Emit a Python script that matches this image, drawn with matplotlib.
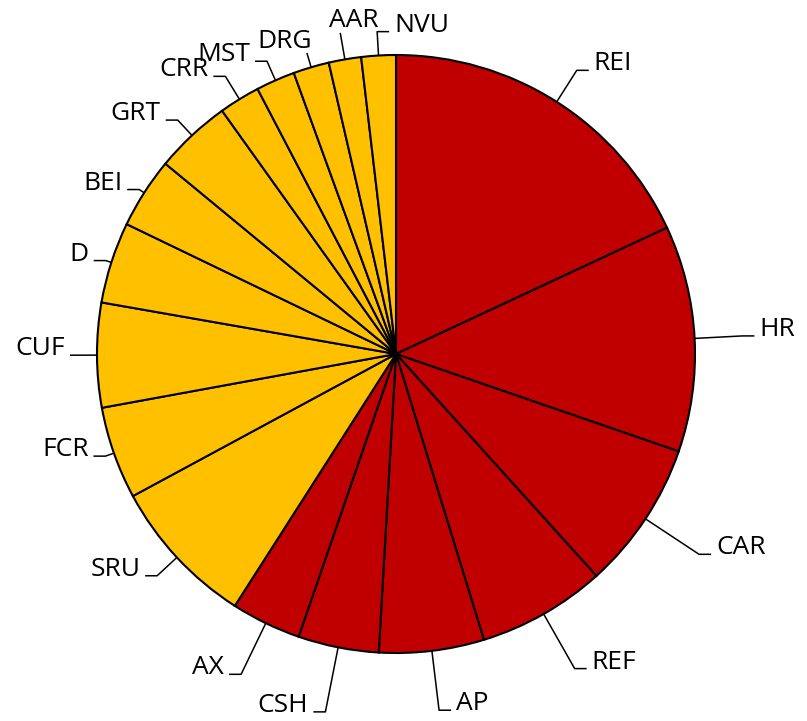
import numpy as np
import matplotlib.pyplot as plt

labels = ['REI', 'HR', 'CAR', 'REF', 'AP', 'CSH', 'AX', 'SRU', 'FCR', 'CUF',
          'D', 'BEI', 'GRT', 'CRR', 'MST', 'DRG', 'AAR', 'NVU']
values = [18.06, 12.22, 8.03, 6.94, 5.67, 4.36, 3.78, 8.06, 5.0, 5.64,
          4.39, 3.83, 4.14, 2.22, 2.11, 1.94, 1.75, 1.86]
groups = ['A'] * 7 + ['B'] * 11

colors = {'A': '#C00000', 'B': '#FFC000'}

# label layout: elbow radius and where the text goes
elbow_r = [1.125, 1.16, 1.215, 1.21, 1.2, 1.22, 1.19, 1.09, 1.03, 1.05,
           1.02, 1.02, 1.07, 1.09, 1.07, 1.05, 1.09, 1.08]
modes = ['r', 'r', 'r', 'r', 'r', 'l', 'l', 'l', 'l', 'l',
         'l', 'l', 'l', 'l', 'l', 'ul', 'ur', 'r']

W, H = 807, 721
cx, cy, R = 396, 354, 299

fig = plt.figure(figsize=(W / 100, H / 100), dpi=100)
ax = fig.add_axes([0, 0, 1, 1])

wedges, _ = ax.pie(values, colors=[colors[g] for g in groups], startangle=90,
                   counterclock=False, radius=1.0,
                   wedgeprops=dict(edgecolor='black', linewidth=1.5))
ax.set_xlim(-cx / R, (W - cx) / R)
ax.set_ylim(-(H - cy) / R, cy / R)
ax.axis('off')

fs = 19
tail = 12 / R
gap = 5 / R
for w, lab, k, m in zip(wedges, labels, elbow_r, modes):
    a = np.deg2rad((w.theta1 + w.theta2) / 2)
    x0, y0 = np.cos(a), np.sin(a)
    x1, y1 = k * np.cos(a), k * np.sin(a)
    xs, ys = [x0, x1], [y0, y1]
    if m == 'r':
        xs.append(x1 + tail); ys.append(y1)
        ax.text(x1 + tail + gap, y1, lab, ha='left', va='baseline', fontsize=fs, family='Open Sans')
    elif m == 'l':
        xs.append(x1 - tail); ys.append(y1)
        ax.text(x1 - tail - gap, y1, lab, ha='right', va='baseline', fontsize=fs, family='Open Sans')
    elif m == 'ul':
        ax.text(x1 + gap, y1 + gap, lab, ha='right', va='baseline', fontsize=fs, family='Open Sans')
    else:
        ax.text(x1 - 11 / R, y1 + 6 / R, lab, ha='left', va='baseline', fontsize=fs, family='Open Sans')
    ax.plot(xs, ys, color='black', lw=1.1, solid_capstyle='butt')

fig.savefig('out.png', dpi=100)
